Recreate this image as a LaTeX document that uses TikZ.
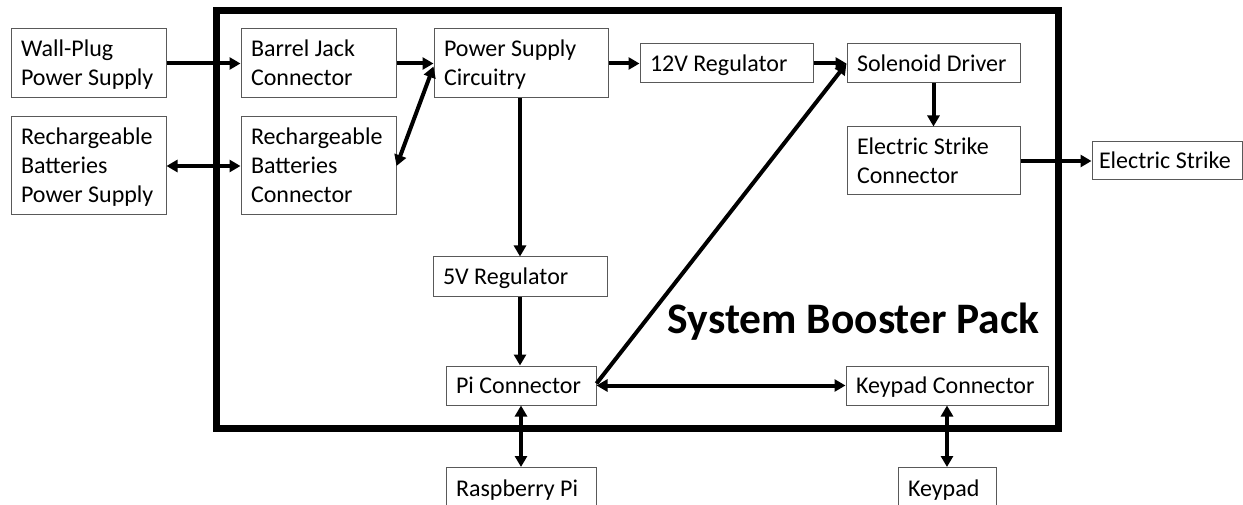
\documentclass[tikz,border=0pt]{standalone}
\usepackage{fontspec}
\setmainfont{Carlito}
\usetikzlibrary{arrows.meta}
\tikzset{
  box/.style={draw=black!65, line width=1pt, fill=white, inner xsep=10pt, inner ysep=0pt,
    align=flush left, font=\fontsize{24}{29}\selectfont, anchor=center,
    execute at begin node={\rule{0pt}{23pt}},
    execute at end node={\rule[-7pt]{0pt}{0pt}}},
  arr/.style={line width=4pt, -{Triangle[length=11pt,width=12pt]}},
  dbl/.style={line width=4pt, {Triangle[length=11pt,width=12pt]}-{Triangle[length=11pt,width=12pt]}},
  frame/.style={line width=7pt}
}
\begin{document}
\begin{tikzpicture}[x=1pt,y=-1pt]
\useasboundingbox (0,0) rectangle (1243,505);
\clip (0,0) rectangle (1243,505);
\draw[frame] (216,10.7) rectangle (1058,428.7);
\node[font=\fontsize{43.5}{50}\selectfont\bfseries, anchor=base] (title) at (853.7,333) {System Booster Pack};

\node[box, text width=135pt, minimum height=69pt] (wall) at (88.5,63.5) {Wall-Plug\\Power Supply};
\node[box, text width=135pt, minimum height=98pt] (rbps) at (88.5,166) {Rechargeable\\Batteries\\Power Supply};
\node[box, text width=135pt, minimum height=69pt] (bjc) at (318.5,63.5) {Barrel Jack\\Connector};
\node[box, text width=135pt, minimum height=98pt] (rbc) at (318.5,166) {Rechargeable\\Batteries\\Connector};
\node[box, text width=154pt, minimum height=69pt] (psc) at (521,63.5) {Power Supply\\Circuitry};
\node[box, text width=153pt, minimum height=39pt] (r12) at (726.5,63.5) {12V Regulator};
\node[box, text width=153pt, minimum height=39pt] (sol) at (933.5,63.5) {Solenoid Driver};
\node[box, text width=153pt, minimum height=68pt] (esc) at (933.5,161) {Electric Strike\\Connector};
\node[box, inner xsep=7pt, text width=136pt, minimum height=38pt] (es) at (1167,161) {Electric Strike};
\node[box, text width=154pt, minimum height=40pt] (r5) at (520,277) {5V Regulator};
\node[box, text width=130pt, minimum height=39pt] (pi) at (521,385.5) {Pi Connector};
\node[box, text width=182pt, minimum height=39pt] (kc) at (947,385.5) {Keypad Connector};
\node[box, text width=130pt, minimum height=41pt, anchor=north] (rpi) at (521,467) {Raspberry Pi};
\node[box, text width=78pt, minimum height=41pt, anchor=north] (kp) at (947,467) {Keypad};

\draw[arr] (wall.east) -- (bjc.west);
\draw[dbl] (rbps.east) -- (rbc.west);
\draw[arr] (bjc.east) -- (psc.west);
\draw[dbl] (rbc.east) -- ([yshift=-3pt]psc.west);
\draw[arr] (psc.east) -- (r12.west);
\draw[arr] (r12.east) -- (sol.west);
\draw[arr] (psc.south -| r5.north) -- (r5.north);
\draw[arr] (r5.south) -- (pi.north -| r5.south);
\draw[arr] ([yshift=2pt]pi.east) -- (sol.west);
\draw[dbl] (pi.east) -- (kc.west);
\draw[arr] (sol.south) -- (esc.north);
\draw[arr] (esc.east) -- (es.west);
\draw[dbl] (pi.south) -- (rpi.north);
\draw[dbl] (kc.south) -- (kp.north);
\end{tikzpicture}
\end{document}
